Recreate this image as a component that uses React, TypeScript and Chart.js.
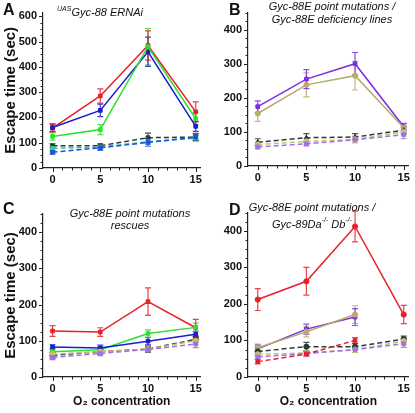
import React, { useEffect, useRef } from 'react';
import { Chart, registerables } from 'chart.js';
Chart.register(...registerables);

const FONT = "'Liberation Sans', Arial, sans-serif";

// O2 concentration categories
const oxygen = [0, 5, 10, 15];

// Panel A
const aRed = [158, 285, 485, 222];
const aRedErr = [15, 28, 58, 40];
const aBlue = [160, 228, 460, 165];
const aBlueErr = [15, 25, 58, 20];
const aGreen = [125, 152, 480, 195];
const aGreenErr = [15, 20, 72, 25];
const aBlackDash = [88, 88, 120, 122];
const aBlackDashErr = [8, 8, 18, 12];
const aGreenDash = [78, 83, 104, 118];
const aGreenDashErr = [8, 8, 10, 10];
const aBlueDash = [62, 80, 101, 122];
const aBlueDashErr = [6, 10, 15, 15];

// Panel B
const bPurple = [174, 255, 300, 115];
const bPurpleErr = [17, 28, 33, 10];
const bOlive = [154, 238, 265, 112];
const bOliveErr = [23, 35, 42, 12];
const bBlackDash = [70, 83, 85, 105];
const bBlackDashErr = [10, 12, 10, 10];
const bOliveDash = [63, 72, 78, 100];
const bOliveDashErr = [8, 8, 10, 8];
const bPurpleDash = [56, 65, 77, 92];
const bPurpleDashErr = [6, 6, 8, 12];

// Panel C
const cRed = [127, 124, 208, 136];
const cRedErr = [15, 12, 38, 23];
const cGreen = [70, 75, 120, 137];
const cGreenErr = [8, 8, 10, 12];
const cBlue = [83, 80, 99, 118];
const cBlueErr = [6, 8, 10, 8];
const cBlackDash = [60, 70, 77, 104];
const cBlackDashErr = [8, 6, 8, 8];
const cOliveDash = [63, 70, 77, 100];
const cOliveDashErr = [6, 6, 8, 10];
const cPurpleDash = [54, 65, 76, 91];
const cPurpleDashErr = [6, 6, 8, 10];

// Panel D
const dRed = [212, 262, 412, 171];
const dRedErr = [30, 38, 42, 25];
const dPurple = [77, 131, 164, null];
const dPurpleErr = [10, 14, 23, null];
const dOlive = [80, 124, 171, null];
const dOliveErr = [10, 14, 24, null];
const dBlackDash = [70, 83, 83, 104];
const dBlackDashErr = [10, 12, 8, 8];
const dOliveDash = [62, 66, 75, 98];
const dOliveDashErr = [6, 6, 8, 8];
const dPurpleDash = [55, 64, 75, 91];
const dPurpleDashErr = [6, 6, 8, 10];
const dRedDash = [42, 63, 100, null];
const dRedDashErr = [6, 6, 8, null];

const RED = '#e8202a';
const BLUE = '#1c1cd0';
const GREEN = '#2ee02e';
const BLACK = '#2a3a3a';
const PURPLE = '#7a2ee0';
const OLIVE = '#b4ae6a';
const BLUEDASH = '#2050d8';
const GREENDASH = '#30c8a0';
const PURPLEDASH = '#a070e8';
const OLIVEDASH = '#c8c070';

function ds(vals: (number | null)[], errs: (number | null)[], color: string, dashed: boolean, style: string) {
  return {
    data: oxygen.map((x, i) => ({ x, y: vals[i] ?? null })),
    errs,
    borderColor: color,
    backgroundColor: color,
    borderWidth: 1.5,
    borderDash: dashed ? [5, 3] : [],
    pointStyle: style,
    pointRadius: 2.6,
    pointBorderWidth: 1,
    spanGaps: false,
    tension: 0,
  } as any;
}

const errPlugin = {
  id: 'errbars',
  beforeDatasetsDraw(chart: any) {
    const ctx = chart.ctx;
    const ys = chart.scales.y;
    chart.data.datasets.forEach((d: any, i: number) => {
      if (!d.errs) return;
      const meta = chart.getDatasetMeta(i);
      meta.data.forEach((pt: any, j: number) => {
        const v = d.data[j].y;
        const e = d.errs[j];
        if (v == null || e == null) return;
        const x = pt.x;
        const y1 = ys.getPixelForValue(v + e);
        const y2 = ys.getPixelForValue(v - e);
        ctx.save();
        ctx.strokeStyle = d.borderColor;
        ctx.globalAlpha = 0.85;
        ctx.lineWidth = 1.2;
        ctx.setLineDash([]);
        ctx.beginPath();
        ctx.moveTo(x, y1); ctx.lineTo(x, y2);
        ctx.moveTo(x - 3, y1); ctx.lineTo(x + 3, y1);
        ctx.moveTo(x - 3, y2); ctx.lineTo(x + 3, y2);
        ctx.stroke();
        ctx.restore();
      });
    });
  },
};

const tickPlugin = {
  id: 'minorticks',
  afterDraw(chart: any) {
    const ctx = chart.ctx;
    const { left, bottom } = chart.chartArea;
    const ys = chart.scales.y;
    const xs = chart.scales.x;
    ctx.save();
    ctx.strokeStyle = '#222';
    ctx.lineWidth = 1;
    ctx.beginPath();
    for (let v = 0; v <= ys.max; v += 25) {
      const y = Math.round(ys.getPixelForValue(v)) + 0.5;
      const len = v % 100 === 0 ? 4 : 2.5;
      ctx.moveTo(left - len, y); ctx.lineTo(left, y);
    }
    for (let v = 0; v <= 15; v += 1) {
      const x = Math.round(xs.getPixelForValue(v)) + 0.5;
      const len = v % 5 === 0 ? 4 : 2.5;
      ctx.moveTo(x, bottom); ctx.lineTo(x, bottom + len);
    }
    ctx.stroke();
    ctx.restore();
  },
};

function makeConfig(datasets: any[], o: { ymax: number; ytop: number; yTitle: boolean; xTitle: boolean; padRight: number; padTop: number; xHeight: number }) {
  const tickFont = { family: FONT, weight: 'bold' as const, size: 11 };
  return {
    type: 'line' as const,
    data: { datasets },
    options: {
      animation: false as const,
      responsive: false,
      maintainAspectRatio: false,
      layout: { padding: { left: 0, right: o.padRight, top: o.padTop, bottom: 0 } },
      plugins: { legend: { display: false }, tooltip: { enabled: false } },
      scales: {
        x: {
          type: 'linear' as const,
          min: -1,
          max: 15.5,
          afterFit: (s: any) => { s.height = o.xHeight; },
          afterBuildTicks: (s: any) => { s.ticks = [0, 5, 10, 15].map((v) => ({ value: v })); },
          ticks: { autoSkip: false, color: '#111', font: tickFont, padding: 5, maxRotation: 0 },
          grid: { drawOnChartArea: false, drawTicks: false },
          border: { display: true, color: '#222', width: 1.2 },
          title: {
            display: o.xTitle,
            text: 'O₂ concentration',
            color: '#111',
            font: { family: FONT, weight: 'bold' as const, size: 12 },
            padding: { top: 0, bottom: 4 },
          },
        },
        y: {
          type: 'linear' as const,
          min: 0,
          max: o.ymax,
          afterFit: (s: any) => { s.width = 43; },
          afterBuildTicks: (s: any) => {
            const t = [];
            for (let v = 0; v <= o.ytop; v += 100) t.push({ value: v });
            s.ticks = t;
          },
          ticks: { autoSkip: false, color: '#111', font: tickFont, padding: 6 },
          grid: { drawOnChartArea: false, drawTicks: false },
          border: { display: true, color: '#222', width: 1.2 },
          title: {
            display: o.yTitle,
            text: 'Escape time (sec)',
            color: '#111',
            font: { family: FONT, weight: 'bold' as const, size: 15 },
            padding: { top: 2, bottom: 0 },
          },
        },
      },
    },
    plugins: [errPlugin, tickPlugin],
  } as any;
}

const abs = (left: number, top: number, extra: any = {}): React.CSSProperties => ({
  position: 'absolute', left, top, fontFamily: FONT, color: '#111', whiteSpace: 'nowrap', ...extra,
});

export default function App() {
  const ra = useRef<HTMLCanvasElement>(null);
  const rb = useRef<HTMLCanvasElement>(null);
  const rc = useRef<HTMLCanvasElement>(null);
  const rd = useRef<HTMLCanvasElement>(null);

  useEffect(() => {
    const charts: Chart[] = [];
    charts.push(new Chart(ra.current!, makeConfig([
      ds(aBlueDash, aBlueDashErr, BLUEDASH, true, 'rect'),
      ds(aGreenDash, aGreenDashErr, GREENDASH, true, 'rect'),
      ds(aBlackDash, aBlackDashErr, BLACK, true, 'rect'),
      ds(aGreen, aGreenErr, GREEN, false, 'rect'),
      ds(aBlue, aBlueErr, BLUE, false, 'rect'),
      ds(aRed, aRedErr, RED, false, 'rect'),
    ], { ymax: 615, ytop: 600, yTitle: true, xTitle: false, padRight: 2, padTop: 4, xHeight: 32 })));
    charts.push(new Chart(rb.current!, makeConfig([
      ds(bPurpleDash, bPurpleDashErr, PURPLEDASH, true, 'rect'),
      ds(bOliveDash, bOliveDashErr, OLIVEDASH, true, 'circle'),
      ds(bBlackDash, bBlackDashErr, BLACK, true, 'triangle'),
      ds(bOlive, bOliveErr, OLIVE, false, 'circle'),
      ds(bPurple, bPurpleErr, PURPLE, false, 'rect'),
    ], { ymax: 450, ytop: 400, yTitle: false, xTitle: false, padRight: 5, padTop: 2, xHeight: 34 })));
    charts.push(new Chart(rc.current!, makeConfig([
      ds(cPurpleDash, cPurpleDashErr, PURPLEDASH, true, 'rect'),
      ds(cOliveDash, cOliveDashErr, OLIVEDASH, true, 'circle'),
      ds(cBlackDash, cBlackDashErr, BLACK, true, 'circle'),
      ds(cBlue, cBlueErr, BLUE, false, 'rect'),
      ds(cGreen, cGreenErr, GREEN, false, 'rect'),
      ds(cRed, cRedErr, RED, false, 'rect'),
    ], { ymax: 450, ytop: 400, yTitle: true, xTitle: true, padRight: 2, padTop: 14, xHeight: 36 })));
    charts.push(new Chart(rd.current!, makeConfig([
      ds(dRedDash, dRedDashErr, RED, true, 'rect'),
      ds(dPurpleDash, dPurpleDashErr, PURPLEDASH, true, 'rect'),
      ds(dOliveDash, dOliveDashErr, OLIVEDASH, true, 'circle'),
      ds(dBlackDash, dBlackDashErr, BLACK, true, 'circle'),
      ds(dOlive, dOliveErr, OLIVE, false, 'circle'),
      ds(dPurple, dPurpleErr, PURPLE, false, 'rect'),
      ds(dRed, dRedErr, RED, false, 'circle'),
    ], { ymax: 450, ytop: 400, yTitle: false, xTitle: true, padRight: 5, padTop: 12, xHeight: 36 })));
    return () => charts.forEach((c) => c.destroy());
  }, []);

  const letter = { fontSize: 16, fontWeight: 'bold', lineHeight: '16px' };
  const ital = { fontSize: 11, fontStyle: 'italic' };

  return (
    <div style={{ position: 'absolute', left: 0, top: 0, width: 415, height: 413, background: '#fff', overflow: 'hidden' }}>
      <canvas ref={ra} width={207} height={200} style={{ position: 'absolute', left: 0, top: 0, width: 207, height: 200 }} />
      <canvas ref={rb} width={210} height={200} style={{ position: 'absolute', left: 205, top: 0, width: 210, height: 200 }} />
      <canvas ref={rc} width={207} height={213} style={{ position: 'absolute', left: 0, top: 200, width: 207, height: 213 }} />
      <canvas ref={rd} width={210} height={213} style={{ position: 'absolute', left: 205, top: 200, width: 210, height: 213 }} />

      <div style={abs(3, 2, letter)}>A</div>
      <div style={abs(229, 2, letter)}>B</div>
      <div style={abs(3, 201, letter)}>C</div>
      <div style={abs(229, 202, letter)}>D</div>

      <div style={abs(57, 5, { ...ital, lineHeight: '14px' })}>
        <sup style={{ fontSize: 7, verticalAlign: 'top', lineHeight: '8px' }}>UAS</sup>Gyc-88 ERNAi
      </div>
      <div style={abs(250, 0, { ...ital, width: 164, textAlign: 'center', lineHeight: '13px' })}>
        Gyc-88E point mutations /<br />Gyc-88E deficiency lines
      </div>
      <div style={abs(50, 207, { ...ital, width: 160, textAlign: 'center', lineHeight: '12px' })}>
        Gyc-88E point mutations<br />rescues
      </div>
      <div style={abs(232, 199, { ...ital, width: 160, textAlign: 'center', lineHeight: '17px' })}>
        Gyc-88E point mutations /<br />Gyc-89Da<sup style={{ fontSize: 7, verticalAlign: 'top', lineHeight: '8px' }}>-/-</sup> Db<sup style={{ fontSize: 7, verticalAlign: 'top', lineHeight: '8px' }}>-/-</sup>
      </div>
    </div>
  );
}
